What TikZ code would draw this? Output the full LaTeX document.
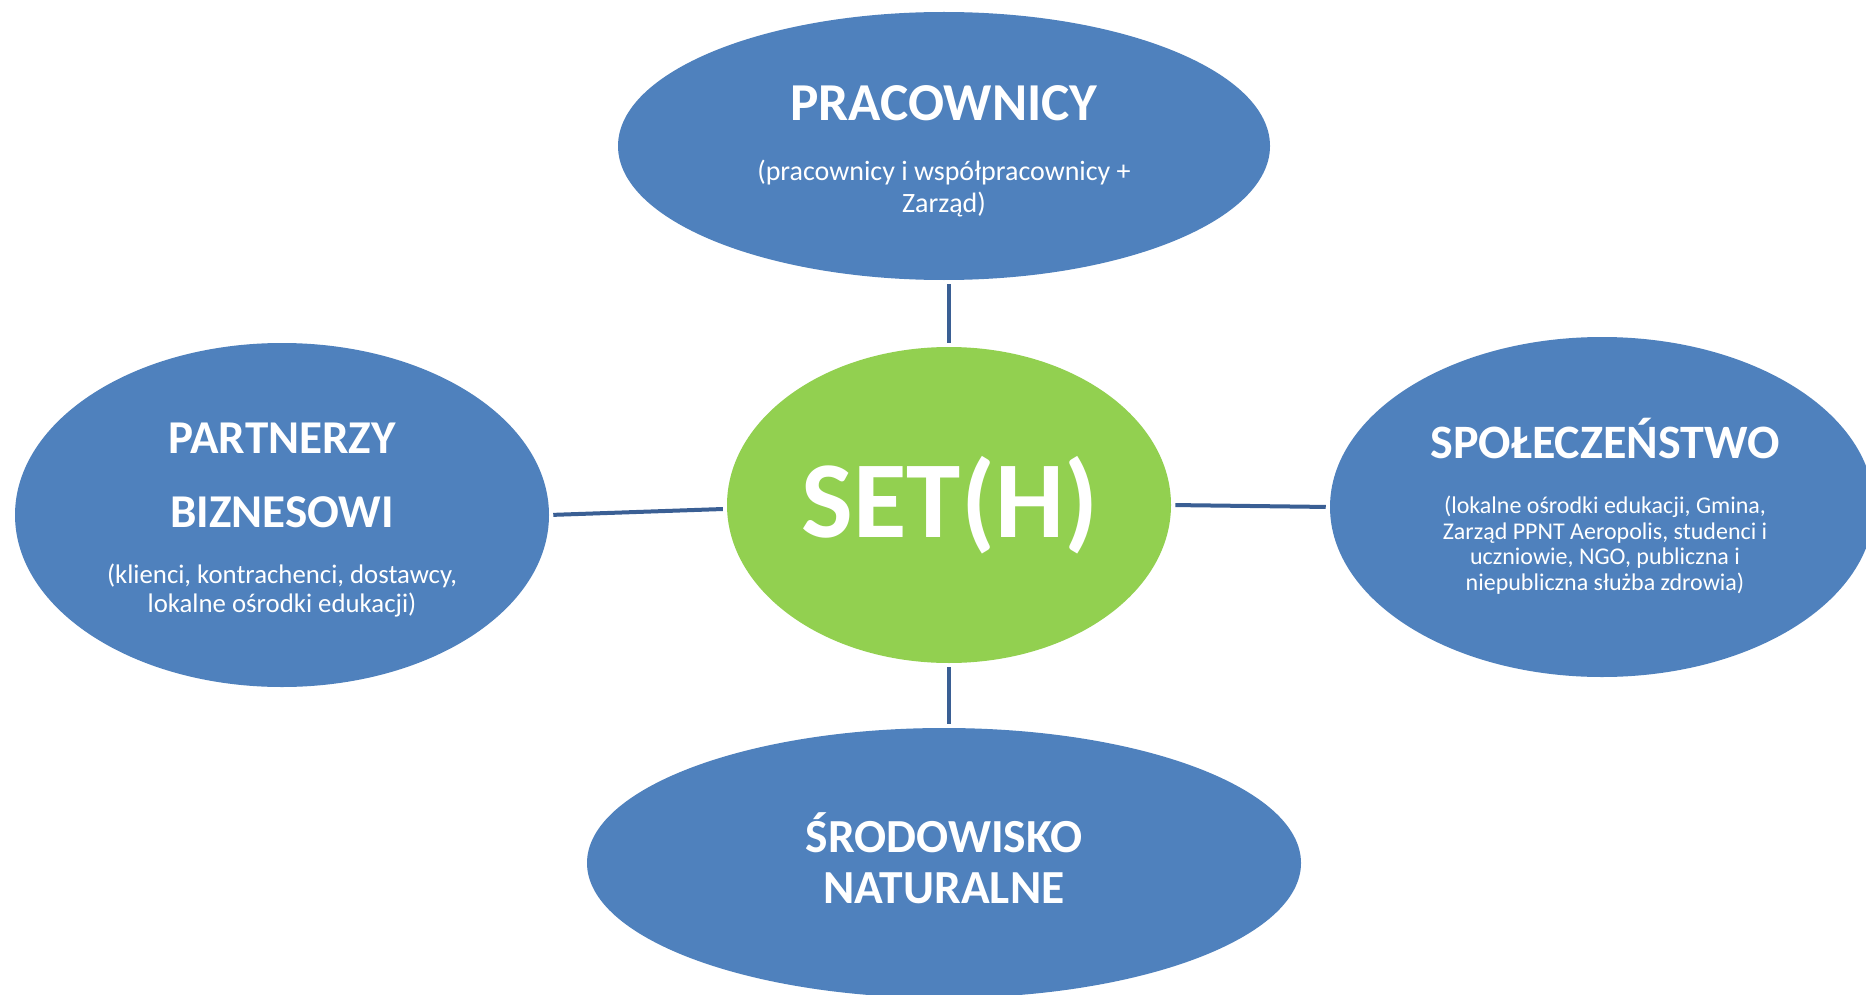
\documentclass[tikz,border=0pt]{standalone}
\usepackage{fontspec}
\setmainfont{Carlito}
\usetikzlibrary{shapes.geometric}
\definecolor{bluefill}{HTML}{4F81BD}
\definecolor{greenfill}{HTML}{92D050}
\definecolor{linecol}{RGB}{58,95,148}
\tikzset{
  blob/.style={ellipse, fill=bluefill, draw=none, inner sep=0pt},
  centerblob/.style={ellipse, fill=greenfill, draw=none, inner sep=0pt},
  conn/.style={draw=linecol, line width=3pt, shorten <=3pt, shorten >=3pt},
  ttl/.style={text=white, anchor=base, inner sep=0pt, font=\bfseries},
  sub/.style={text=white, anchor=base, inner sep=0pt}
}
\newcommand{\fs}[1]{\fontsize{#1}{#1}\selectfont}
\begin{document}
\begin{tikzpicture}[x=0.75pt,y=-0.75pt]
\useasboundingbox (0,0) rectangle (1866,995);
\clip (0,0) rectangle (1866,995);
\fill[white] (0,0) rectangle (1866,995);
% ellipses
\node[blob, minimum width=489pt, minimum height=201pt] (prac) at (944,146) {};
\node[blob, minimum width=400.5pt, minimum height=258pt] (part) at (282,515) {};
\node[centerblob, minimum width=333pt, minimum height=237pt] (set) at (949,505) {};
\node[blob, minimum width=408pt, minimum height=255pt] (spol) at (1602,507) {};
\node[blob, minimum width=535.5pt, minimum height=202.5pt] (srod) at (944,863) {};
% connectors
\draw[conn] (set.north |- prac.south) -- (set.north);
\draw[conn] (part.0.5) -- (set.181);
\draw[conn] (set.east) -- (spol.west);
\draw[conn] (set.south) -- (set.south |- srod.north);
% texts
\node[ttl, font=\bfseries\fs{40}] (pracT) at (944,120.5) {PRACOWNICY};
\node[sub, font=\fs{21}] (pracS1) at (944,180.5) {(pracownicy i współpracownicy +};
\node[sub, font=\fs{21}] (pracS2) at (944,212.5) {Zarząd)};
\node[ttl, font=\bfseries\fs{35.3}] (partT1) at (282,453) {PARTNERZY};
\node[ttl, font=\bfseries\fs{35.3}] (partT2) at (282,527) {BIZNESOWI};
\node[sub, font=\fs{20.1}] (partS1) at (282,583.5) {(klienci, kontrachenci, dostawcy,};
\node[sub, font=\fs{20.1}] (partS2) at (282,612.5) {lokalne ośrodki edukacji)};
\node[ttl, font=\bfseries\fs{82}] (setT) at (950,537) {SET(H)};
\node[ttl, font=\bfseries\fs{36}] (spolT) at (1605,458) {SPOŁECZEŃSTWO};
\node[sub, font=\fs{18}] (spolS1) at (1605,513.5) {(lokalne ośrodki edukacji, Gmina,};
\node[sub, font=\fs{18}] (spolS2) at (1605,539.5) {Zarząd PPNT Aeropolis, studenci i};
\node[sub, font=\fs{18}] (spolS3) at (1605,564.5) {uczniowie, NGO, publiczna i};
\node[sub, font=\fs{18}] (spolS4) at (1605,590.5) {niepubliczna służba zdrowia)};
\node[ttl, font=\bfseries\fs{35.6}] (srodT1) at (944,852) {ŚRODOWISKO};
\node[ttl, font=\bfseries\fs{35.6}] (srodT2) at (944,903) {NATURALNE};
\end{tikzpicture}
\end{document}
